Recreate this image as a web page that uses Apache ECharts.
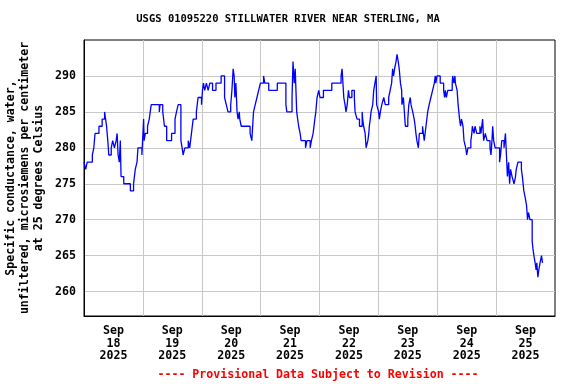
<!DOCTYPE html>
<html><head><meta charset="utf-8">
<script src="https://cdn.jsdelivr.net/npm/echarts@6/dist/echarts.min.js"></script>
<style>html,body{margin:0;padding:0;background:#fff}#c{width:576px;height:384px}</style>
</head><body><div id="c"></div>
<script>
// hours since Sep 18 2025 00:00
const hours = [
 0,0.7,1.3,3.4,4.0,4.5,6.1,7.4,8.4,8.8,9.2,9.7,10.1,11.1,11.7,12.4,13.1,13.5,13.9,14.4,14.8,15.1,16.2,18.9,20.2,20.9,21.6,22.0,23.6,24.3,24.5,25.0,25.9,26.6,27.4,30.7,31.0,32.1,32.8,33.7,35.7,37.1,37.7,38.4,39.5,40.0,40.4,41.1,42.5,43.1,43.8,44.5,45.8,46.5,47.9,
 48.3,48.7,49.2,49.9,50.6,51.3,52.4,53.8,55.9,57.3,58.0,58.7,59.8,60.3,60.8,61.2,61.5,61.9,62.4,62.8,63.3,63.5,64.1,67.7,68.4,69.1,69.8,70.5,71.2,71.9,73.2,73.7,75.3,78.8,82.3,82.7,84.8,85.2,85.7,86.1,86.7,87.1,87.5,88.1,88.5,90.3,90.9,92.2,92.7,93.4,94.1,94.5,95.0,95.7,
 96.2,97.6,101.0,104.8,105.2,105.9,106.4,106.8,107.3,107.8,108.2,109.2,110.2,110.5,111.3,112.3,113.4,113.6,114.0,114.6,115.0,115.7,116.1,116.3,116.7,117.0,117.7,118.1,118.6,119.1,119.3,120.1,120.4,120.8,121.4,122.2,122.8,124.2,124.8,125.4,125.8,126.2,126.6,127.2,127.6,128.1,128.5,129.0,129.5,129.6,130.2,130.6,131.0,132.0,132.4,133.0,133.3,134.0,134.6,135.0,135.3,135.7,136.3,136.7,138.0,138.7,139.4,140.1,140.7,141.4,142.1,142.8,
 143.2,143.4,143.9,145.2,146.6,147.0,147.3,147.7,148.3,150.1,150.3,150.8,151.2,151.4,152.1,152.5,153.1,153.5,153.9,154.5,154.9,155.6,156.0,156.5,157.7,158.1,158.3,159.0,159.4,160.1,161.4,161.8,162.5,162.9,163.6,164.3,165.5,165.9,166.3,166.6,167.0,167.6,169.4,169.8,170.3,171.2,171.8,172.2,172.6,173.1,173.5,173.9,174.5,175.3,175.9,176.2,176.9,178.3,178.7,179.3,179.9,180.4,180.8,181.2,181.8,182.7,183.0,183.4,183.9,184.3,184.6,185.0,185.4,185.9,186.5,186.9
];
const conductance = [
 278,277,278,279,280,282,283,284,285,284,283,281,279,280,281,280,281,282,279,278,281,276,275,274,275,277,278,280,279,284,281,282,283,284,286,285,286,285,283,281,282,284,285,286,281,280,279,280,281,280,282,284,285,287,286,
 288,289,288,289,288,289,288,289,290,287,286,285,286,288,291,290,287,289,285,284,285,284,283,282,281,285,286,287,288,289,290,289,288,289,286,285,287,292,289,291,285,284,283,282,281,280,281,280,281,282,284,285,287,288,
 287,288,289,290,291,287,286,285,286,288,287,288,287,285,284,283,285,284,283,282,280,281,282,283,284,285,286,288,289,290,286,285,284,285,286,287,286,287,288,289,291,290,291,292,293,292,291,289,288,286,287,285,283,284,286,287,286,285,284,283,282,281,280,282,283,281,283,285,286,287,288,289,
 290,289,290,289,288,287,288,287,288,289,290,289,290,289,288,286,284,283,284,283,281,280,279,280,281,282,283,282,283,282,283,282,284,281,282,281,280,279,281,283,281,280,278,279,281,280,282,279,276,278,275,277,276,275,276,277,278,277,276,274,273,272,270,271,270,267,266,265,264,263,264,262,263,264,265,264
];
const dayLabels = ['18','19','20','21','22','23','24','25'];
const yTicks = [260,265,270,275,280,285,290];

const FONT = 'DejaVu Sans Mono';
const chart = echarts.init(document.getElementById('c'), null, {renderer:'canvas'});
const data = hours.map((h,i)=>[h, conductance[i]]);
chart.setOption({
  animation:false,
  backgroundColor:'#fff',
  title:{
    text:'USGS 01095220 STILLWATER RIVER NEAR STERLING, MA',
    left:'center', top:14, padding:0,
    textStyle:{fontFamily:FONT, fontWeight:'bold', fontSize:10.5, color:'#000'}
  },
  graphic:[{
    type:'text', style:{x:318, y:375, text:'---- Provisional Data Subject to Revision ----',
      textAlign:'center', textVerticalAlign:'middle', fill:'#ff0000',
      font:'bold 11.6px "DejaVu Sans Mono"'}
  }],
  grid:{left:84, right:21, top:40, bottom:68, show:true, borderColor:'#000', borderWidth:1,
    backgroundColor:'transparent', containLabel:false, outerBoundsMode:'none'},
  xAxis:[{
    type:'value', min:0, max:192, interval:24, position:'bottom',
    axisLine:{show:true, lineStyle:{color:'#000', width:1}},
    axisTick:{show:false}, axisLabel:{show:false},
    splitLine:{show:true, showMinLine:false, showMaxLine:false, lineStyle:{color:'#c8c8c8', width:1}}
  },{
    type:'value', min:-12, max:180, minInterval:24, maxInterval:24, splitNumber:8, position:'bottom',
    axisLine:{show:false}, axisTick:{show:false}, splitLine:{show:false},
    axisLabel:{show:true, margin:9, color:'#000', fontFamily:FONT, fontWeight:'bold', fontSize:11.6, lineHeight:12.5,
      showMinLabel:true, showMaxLabel:true,
      formatter:function(u){ if(u<0 || u%24!==0) return ''; const i=u/24; return 'Sep\n'+dayLabels[i]+'\n2025'; }}
  }],
  yAxis:{
    type:'value', min:256.6, max:295, minInterval:5, maxInterval:5, splitNumber:8,
    name:'Specific conductance, water,\nunfiltered, microsiemens per centimeter\nat 25 degrees Celsius',
    nameLocation:'middle', nameRotate:90, nameGap:38, nameMoveOverlap:false,
    nameTextStyle:{fontFamily:FONT, fontWeight:'bold', fontSize:11.6, lineHeight:14, color:'#000'},
    axisLine:{show:true, lineStyle:{color:'#000', width:1}},
    axisTick:{show:false},
    axisLabel:{margin:8, color:'#000', fontFamily:FONT, fontWeight:'bold', fontSize:11.6,
      formatter:function(v){ const r=Math.round(v*100)/100; return yTicks.indexOf(r)>=0 ? String(r) : ''; }},
    splitLine:{show:true, showMinLine:false, showMaxLine:false, lineStyle:{color:'#c8c8c8', width:1}}
  },
  series:[{
    type:'line', xAxisIndex:0, data:data, step:'end', showSymbol:false, symbol:'none',
    lineStyle:{color:'#0000ff', width:1.3}, clip:true
  }]
});
</script></body></html>
